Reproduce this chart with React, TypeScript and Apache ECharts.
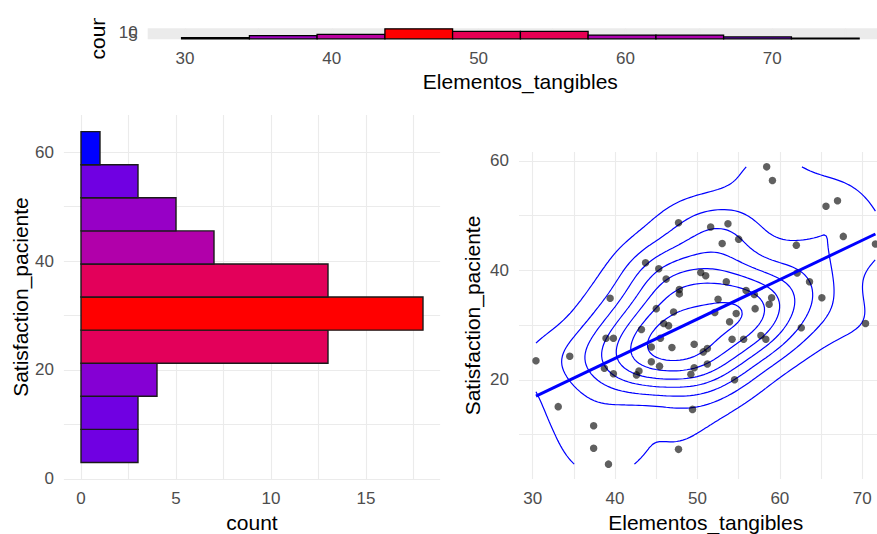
import React, { useEffect, useRef } from "react";
import * as echarts from "echarts";

// ---- scatter data ----
const tangibles = [
  47.7, 43.7, 45.3, 46.2, 39.4, 50.4, 47.8, 47.8, 45.0, 47.1,
  58.4, 59.1, 67.0, 65.6, 51.6, 53.7, 53.0, 55.0, 62.0, 67.7,
  71.6, 51.0, 53.5, 62.1, 63.6, 55.9, 56.9, 52.5, 59.0, 58.7,
  65.1, 57.0, 54.7, 52.1, 53.9, 62.6, 70.4, 57.7, 58.3, 54.2,
  55.6, 49.6, 50.7, 51.2, 51.2, 49.6, 49.2, 54.5, 49.4, 45.9,
  46.5, 43.2, 38.9, 39.8, 45.5, 44.4, 46.9, 34.5, 30.4, 44.4,
  45.4, 38.7, 42.9, 42.6, 39.8, 33.1, 37.4, 37.4, 39.2, 47.7,
];
const satisfaction = [
  48.7, 41.4, 40.3, 38.4, 34.9, 39.6, 36.5, 35.7, 33.0, 32.4,
  58.9, 56.4, 52.7, 51.7, 47.9, 48.5, 44.9, 45.7, 44.6, 46.2,
  44.8, 39.0, 37.9, 39.5, 37.9, 36.3, 35.6, 34.7, 35.0, 33.8,
  35.0, 33.0, 32.1, 32.3, 30.6, 29.5, 30.3, 28.1, 27.4, 27.4,
  27.4, 26.5, 25.1, 25.7, 22.9, 22.2, 21.0, 20.0, 14.6, 30.3,
  29.9, 29.2, 27.6, 27.6, 27.6, 26.0, 25.9, 24.3, 23.5, 23.3,
  22.5, 22.1, 21.6, 20.9, 21.1, 15.1, 11.6, 7.5, 4.6, 7.3,
];

// ---- top histogram (Elementos_tangibles) ----
const topBinEdges = [29.77, 34.39, 39.0, 43.62, 48.23, 52.85, 57.46, 62.08, 66.69, 71.31, 75.92];
const topCounts = [2, 5, 7, 16, 12, 12, 6, 6, 3, 1];

// ---- left histogram (Satisfaction_paciente) ----
const leftBinEdges = [3.0, 9.08, 15.16, 21.24, 27.32, 33.4, 39.48, 45.56, 51.64, 57.72, 63.8];
const leftCounts = [3, 3, 4, 13, 18, 13, 7, 5, 3, 1];

// ---- tick labels / grid lines ----
const tangLabels = [30, 40, 50, 60, 70];
const tangGrid = [30, 35, 40, 45, 50, 55, 60, 65, 70, 75];
const topCountLabels = [0, 5, 10, 15];
const countLabels = [0, 5, 10, 15];
const countGrid = [0, 2.5, 5, 7.5, 10, 12.5, 15, 17.5];
const satLabels = [0, 20, 40, 60];
const satGrid = [0, 10, 20, 30, 40, 50, 60];
const scatterSatLabels = [20, 40, 60];
const scatterSatGrid = [10, 20, 30, 40, 50, 60];

const FONT = '"Liberation Sans", Arial, Helvetica, sans-serif';
const TICK_COLOR = "#4D4D4D";
const GRID_COLOR = "#EBEBEB";

// ---------- colour scale (ggplot scale_fill_gradient, Lab interpolation) ----------
function toLin(c: number) {
  c /= 255;
  return c <= 0.04045 ? c / 12.92 : Math.pow((c + 0.055) / 1.055, 2.4);
}
function fromLin(c: number) {
  const v = c <= 0.0031308 ? 12.92 * c : 1.055 * Math.pow(c, 1 / 2.4) - 0.055;
  return Math.round(Math.max(0, Math.min(1, v)) * 255);
}
const Xn = 0.95047, Yn = 1.0, Zn = 1.08883;
function rgbToLab(rgb: number[]) {
  const R = toLin(rgb[0]), G = toLin(rgb[1]), B = toLin(rgb[2]);
  const X = 0.4124564 * R + 0.3575761 * G + 0.1804375 * B;
  const Y = 0.2126729 * R + 0.7151522 * G + 0.072175 * B;
  const Z = 0.0193339 * R + 0.119192 * G + 0.9503041 * B;
  const f = (t: number) => (t > 0.008856 ? Math.cbrt(t) : 7.787 * t + 16 / 116);
  const fx = f(X / Xn), fy = f(Y / Yn), fz = f(Z / Zn);
  return [116 * fy - 16, 500 * (fx - fy), 200 * (fy - fz)];
}
function labToRgb(lab: number[]) {
  const fy = (lab[0] + 16) / 116;
  const fx = fy + lab[1] / 500;
  const fz = fy - lab[2] / 200;
  const finv = (t: number) => (t * t * t > 0.008856 ? t * t * t : (t - 16 / 116) / 7.787);
  const X = Xn * finv(fx), Y = Yn * finv(fy), Z = Zn * finv(fz);
  const R = 3.2404542 * X - 1.5371385 * Y - 0.4985314 * Z;
  const G = -0.969266 * X + 1.8760108 * Y + 0.041556 * Z;
  const B = 0.0556434 * X - 0.2040259 * Y + 1.0572252 * Z;
  return `rgb(${fromLin(R)},${fromLin(G)},${fromLin(B)})`;
}
const LAB_LOW = rgbToLab([0, 0, 255]);
const LAB_HIGH = rgbToLab([255, 0, 0]);
function gradient(v: number, lo: number, hi: number) {
  const t = hi > lo ? (v - lo) / (hi - lo) : 0;
  return labToRgb([0, 1, 2].map((k) => LAB_LOW[k] + t * (LAB_HIGH[k] - LAB_LOW[k])));
}

// ---------- 2D density (MASS::kde2d like) + contour lines ----------
function quantile7(sorted: number[], p: number) {
  const h = (sorted.length - 1) * p;
  const lo = Math.floor(h);
  const hiI = Math.min(lo + 1, sorted.length - 1);
  return sorted[lo] + (h - lo) * (sorted[hiI] - sorted[lo]);
}
function bandwidthNrd(v: number[]) {
  const s = [...v].sort((a, b) => a - b);
  const iqr = (quantile7(s, 0.75) - quantile7(s, 0.25)) / 1.34;
  const m = v.reduce((a, b) => a + b, 0) / v.length;
  const sd = Math.sqrt(v.reduce((a, b) => a + (b - m) * (b - m), 0) / (v.length - 1));
  return 4 * 1.06 * Math.min(sd, iqr) * Math.pow(v.length, -0.2);
}
function pretty(lo: number, hi: number, n: number) {
  const cell = (hi - lo) / n;
  const U = Math.pow(10, Math.floor(Math.log10(cell)));
  let unit = U;
  const h = 1.5, h5 = 0.5 + 1.5 * h;
  if (2 * U - cell < h * (cell - unit)) {
    unit = 2 * U;
    if (5 * U - cell < h5 * (cell - unit)) {
      unit = 5 * U;
      if (10 * U - cell < h * (cell - unit)) unit = 10 * U;
    }
  }
  const ns = Math.floor(lo / unit + 1e-7), nu = Math.ceil(hi / unit - 1e-7);
  const out: number[] = [];
  for (let k = ns; k <= nu; k++) out.push(k * unit);
  return out;
}
function densityContours(xs: number[], ys: number[]) {
  const N = 100;
  const xmin = Math.min(...xs), xmax = Math.max(...xs);
  const ymin = Math.min(...ys), ymax = Math.max(...ys);
  const hx = bandwidthNrd(xs) / 4, hy = bandwidthNrd(ys) / 4;
  const gx: number[] = [], gy: number[] = [];
  for (let i = 0; i < N; i++) {
    gx.push(xmin + (i * (xmax - xmin)) / (N - 1));
    gy.push(ymin + (i * (ymax - ymin)) / (N - 1));
  }
  const dn = (d: number, s: number) => Math.exp(-0.5 * (d / s) * (d / s)) / (Math.sqrt(2 * Math.PI) * s);
  const ax = gx.map((g) => xs.map((x) => dn(g - x, hx)));
  const ay = gy.map((g) => ys.map((y) => dn(g - y, hy)));
  const z: number[][] = [];
  let zmin = Infinity, zmax = -Infinity;
  for (let i = 0; i < N; i++) {
    const row: number[] = [];
    for (let j = 0; j < N; j++) {
      let s = 0;
      for (let k = 0; k < xs.length; k++) s += ax[i][k] * ay[j][k];
      s /= xs.length;
      row.push(s);
      if (s < zmin) zmin = s;
      if (s > zmax) zmax = s;
    }
    z.push(row);
  }
  const levels = pretty(zmin, zmax, 10);
  const result: number[][][] = [];
  for (const level of levels) {
    const segs: [string, string][] = [];
    const pts = new Map<string, number[]>();
    const add = (key: string, xa: number, ya: number, va: number, xb: number, yb: number, vb: number) => {
      if (!pts.has(key)) {
        const t = (level - va) / (vb - va);
        pts.set(key, [xa + t * (xb - xa), ya + t * (yb - ya)]);
      }
      return key;
    };
    for (let i = 0; i < N - 1; i++) {
      for (let j = 0; j < N - 1; j++) {
        const v0 = z[i][j], v1 = z[i + 1][j], v2 = z[i + 1][j + 1], v3 = z[i][j + 1];
        const code = (v0 > level ? 1 : 0) | (v1 > level ? 2 : 0) | (v2 > level ? 4 : 0) | (v3 > level ? 8 : 0);
        if (code === 0 || code === 15) continue;
        const B = () => add(`h${i}_${j}`, gx[i], gy[j], v0, gx[i + 1], gy[j], v1);
        const R = () => add(`v${i + 1}_${j}`, gx[i + 1], gy[j], v1, gx[i + 1], gy[j + 1], v2);
        const T = () => add(`h${i}_${j + 1}`, gx[i], gy[j + 1], v3, gx[i + 1], gy[j + 1], v2);
        const L = () => add(`v${i}_${j}`, gx[i], gy[j], v0, gx[i], gy[j + 1], v3);
        const center = (v0 + v1 + v2 + v3) / 4 > level;
        switch (code) {
          case 1: case 14: segs.push([L(), B()]); break;
          case 2: case 13: segs.push([B(), R()]); break;
          case 3: case 12: segs.push([L(), R()]); break;
          case 4: case 11: segs.push([R(), T()]); break;
          case 6: case 9: segs.push([B(), T()]); break;
          case 7: case 8: segs.push([L(), T()]); break;
          case 5:
            if (center) { segs.push([L(), T()]); segs.push([B(), R()]); }
            else { segs.push([L(), B()]); segs.push([R(), T()]); }
            break;
          case 10:
            if (center) { segs.push([L(), B()]); segs.push([R(), T()]); }
            else { segs.push([B(), R()]); segs.push([L(), T()]); }
            break;
        }
      }
    }
    const adj = new Map<string, number[]>();
    segs.forEach(([a, b], idx) => {
      if (!adj.has(a)) adj.set(a, []);
      if (!adj.has(b)) adj.set(b, []);
      adj.get(a)!.push(idx);
      adj.get(b)!.push(idx);
    });
    const used = new Array(segs.length).fill(false);
    const walk = (startKey: string, first: number) => {
      const line = [startKey];
      let key = startKey;
      let s: number | undefined = first;
      while (s !== undefined && !used[s]) {
        used[s] = true;
        const [a, b] = segs[s];
        const next = a === key ? b : a;
        line.push(next);
        key = next;
        s = adj.get(key)!.find((t) => !used[t]);
      }
      return line.map((k) => pts.get(k)!);
    };
    adj.forEach((list, key) => {
      if (list.length === 1 && !used[list[0]]) result.push(walk(key, list[0]));
    });
    segs.forEach((sg, idx) => {
      if (!used[idx]) result.push(walk(sg[0], idx));
    });
  }
  return result;
}

function expand(lo: number, hi: number) {
  const d = (hi - lo) * 0.05;
  return [lo - d, hi + d];
}

export default function App() {
  const ref = useRef<HTMLDivElement>(null);
  useEffect(() => {
    if (!ref.current) return;
    const chart = echarts.init(ref.current, undefined, { renderer: "svg" });

    const xRange = expand(Math.min(...tangibles), Math.max(...tangibles));
    const yRange = expand(Math.min(...satisfaction), Math.max(...satisfaction));
    const topX = expand(topBinEdges[0], topBinEdges[topBinEdges.length - 1]);
    const topY = expand(0, Math.max(...topCounts));
    const leftX = expand(0, Math.max(...leftCounts));
    const leftY = expand(leftBinEdges[0], leftBinEdges[leftBinEdges.length - 1]);

    // regression (lm)
    const n = tangibles.length;
    const mx = tangibles.reduce((a, b) => a + b, 0) / n;
    const my = satisfaction.reduce((a, b) => a + b, 0) / n;
    let sxy = 0, sxx = 0;
    for (let i = 0; i < n; i++) {
      sxy += (tangibles[i] - mx) * (satisfaction[i] - my);
      sxx += (tangibles[i] - mx) * (tangibles[i] - mx);
    }
    const slope = sxy / sxx;
    const icpt = my - slope * mx;
    const xLo = Math.min(...tangibles), xHi = Math.max(...tangibles);

    const contours = densityContours(tangibles, satisfaction);

    const tickLabel = { color: TICK_COLOR, fontSize: 17, fontFamily: FONT };
    const nameStyle = { color: "#000", fontSize: 21, fontFamily: FONT };
    const split = { show: true, lineStyle: { color: GRID_COLOR, width: 1.1 } };

    const topMin = Math.min(...topCounts), topMax = Math.max(...topCounts);
    const leftMin = Math.min(...leftCounts), leftMax = Math.max(...leftCounts);

    const option: any = {
      animation: false,
      backgroundColor: "#ffffff",
      textStyle: { fontFamily: FONT },
      grid: [
        { left: 147.7, top: 28.3, width: 745.3, height: 11, show: true, backgroundColor: GRID_COLOR, borderWidth: 0, containLabel: false, outerBoundsMode: "none" },
        { left: 63.9, top: 115.1, width: 376.2, height: 363.9, containLabel: false, outerBoundsMode: "none" },
        { left: 519, top: 152, width: 373.4, height: 327, containLabel: false, outerBoundsMode: "none" },
      ],
      xAxis: [
        {
          gridIndex: 0, type: "value", min: topX[0], max: topX[1],
          axisLine: { show: false }, axisTick: { show: false, customValues: tangGrid },
          axisLabel: { ...tickLabel, customValues: tangLabels, margin: 11 },
          splitLine: split,
          name: "Elementos_tangibles", nameLocation: "middle", nameGap: 32, nameTextStyle: nameStyle,
        },
        {
          gridIndex: 1, type: "value", min: leftX[0], max: leftX[1],
          axisLine: { show: false }, axisTick: { show: false, customValues: countGrid },
          axisLabel: { ...tickLabel, customValues: countLabels, margin: 11 },
          splitLine: split,
          name: "count", nameLocation: "middle", nameGap: 31, nameTextStyle: nameStyle,
        },
        {
          gridIndex: 2, type: "value", min: xRange[0], max: xRange[1],
          axisLine: { show: false }, axisTick: { show: false, customValues: tangGrid },
          axisLabel: { ...tickLabel, customValues: tangLabels, margin: 11 },
          splitLine: split,
          name: "Elementos_tangibles", nameLocation: "middle", nameGap: 31, nameTextStyle: nameStyle,
        },
      ],
      yAxis: [
        {
          gridIndex: 0, type: "value", min: topY[0], max: topY[1],
          axisLine: { show: false }, axisTick: { show: false, customValues: topCountLabels },
          axisLabel: { ...tickLabel, customValues: topCountLabels, margin: 10 },
          splitLine: { show: false },
          name: "count", nameLocation: "middle", nameGap: 33, nameTextStyle: nameStyle,
        },
        {
          gridIndex: 1, type: "value", min: leftY[0], max: leftY[1],
          axisLine: { show: false }, axisTick: { show: false, customValues: satGrid },
          axisLabel: { ...tickLabel, customValues: satLabels, margin: 10 },
          splitLine: split,
          name: "Satisfaction_paciente", nameLocation: "middle", nameGap: 33, nameTextStyle: nameStyle,
        },
        {
          gridIndex: 2, type: "value", min: yRange[0], max: yRange[1],
          axisLine: { show: false }, axisTick: { show: false, customValues: scatterSatGrid },
          axisLabel: { ...tickLabel, customValues: scatterSatLabels, margin: 10 },
          splitLine: split,
          name: "Satisfaction_paciente", nameLocation: "middle", nameGap: 36, nameTextStyle: nameStyle,
        },
      ],
      graphic: [
        { type: "rect", z: 1000, shape: { x: 80, y: 0, width: 45, height: 18 }, style: { fill: "#ffffff" } },
      ],
      series: [
        {
          type: "custom", xAxisIndex: 0, yAxisIndex: 0,
          data: topCounts.map((c, i) => [topBinEdges[i], topBinEdges[i + 1], c]),
          encode: { x: [0, 1], y: 2 },
          renderItem: (_p: any, api: any) => {
            const c = api.value(2);
            const p0 = api.coord([api.value(0), 0]);
            const p1 = api.coord([api.value(1), c]);
            return {
              type: "rect",
              shape: { x: p0[0], y: p1[1], width: p1[0] - p0[0], height: p0[1] - p1[1] },
              style: { fill: gradient(c, topMin, topMax), stroke: "#000", lineWidth: 1.3 },
            };
          },
        },
        {
          type: "custom", xAxisIndex: 1, yAxisIndex: 1,
          data: leftCounts.map((c, i) => [leftBinEdges[i], leftBinEdges[i + 1], c]),
          encode: { x: 2, y: [0, 1] },
          renderItem: (_p: any, api: any) => {
            const c = api.value(2);
            const p0 = api.coord([0, api.value(0)]);
            const p1 = api.coord([c, api.value(1)]);
            return {
              type: "rect",
              shape: { x: p0[0], y: p1[1], width: p1[0] - p0[0], height: p0[1] - p1[1] },
              style: { fill: gradient(c, leftMin, leftMax), stroke: "#1a1a1a", lineWidth: 1.4 },
            };
          },
        },
        ...contours.map((line) => ({
          type: "line", xAxisIndex: 2, yAxisIndex: 2,
          data: line, showSymbol: false, symbol: "none", smooth: false,
          lineStyle: { color: "#0000FF", width: 1.2 }, z: 2, silent: true,
        })),
        {
          type: "scatter", xAxisIndex: 2, yAxisIndex: 2,
          data: tangibles.map((x, i) => [x, satisfaction[i]]),
          symbolSize: 7.5,
          itemStyle: { color: "rgba(0,0,0,0.78)" },
          z: 3,
        },
        {
          type: "line", xAxisIndex: 2, yAxisIndex: 2,
          data: [[xLo, icpt + slope * xLo], [xHi, icpt + slope * xHi]],
          showSymbol: false, symbol: "none",
          lineStyle: { color: "#0000FF", width: 3 }, z: 4,
        },
      ],
    };
    chart.setOption(option);
    return () => chart.dispose();
  }, []);
  return (
    <div
      ref={ref}
      style={{ position: "fixed", left: 0, top: 0, width: 877, height: 534, background: "#fff" }}
    />
  );
}
